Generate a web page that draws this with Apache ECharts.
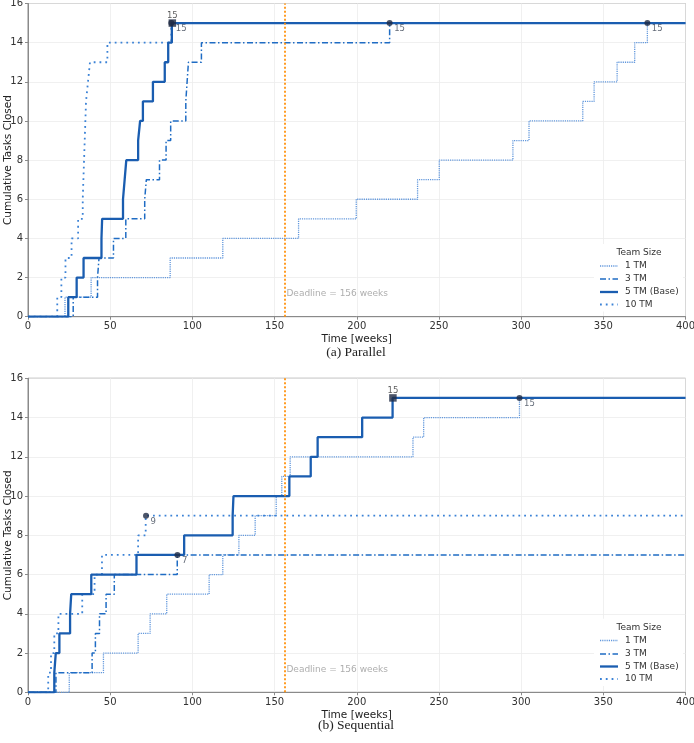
<!DOCTYPE html>
<html><head><meta charset="utf-8">
<script src="https://cdn.jsdelivr.net/npm/echarts@6/dist/echarts.min.js"></script>
<style>html,body{margin:0;padding:0;background:#fff}#c{width:694px;height:743px}</style>
</head><body><div id="c"></div>
<script>
// ---------------- data ----------------
const teamSizes = ['1 TM', '3 TM', '5 TM (Base)', '10 TM'];
const deadline = 156;
const xMax = 400, xStep = 50, yMax = 16, yStep = 2;

// (a) Parallel: time at which each cumulative count is reached
const par1T  = [0, 22.5, 38.4, 86.5, 118.5, 164.6, 199.7, 237, 250.2, 295, 304.8, 337.5, 344.4, 358.4, 369.1, 376.8, 400];
const par1V  = [0, 1, 2, 3, 4, 5, 6, 7, 8, 9, 10, 11, 12, 13, 14, 15, 15];
const par3T  = [0, 27.5, 42.3, 43.2, 52, 59.5, 71, 72, 80, 84, 86.8, 96, 96.8, 97.6, 105.5, 220, 400];
const par3V  = [0, 1, 2, 3, 4, 5, 6, 7, 8, 9, 10, 11, 12, 13, 14, 15, 15];
const par5T  = [0, 24.5, 29.6, 33.8, 44.7, 45.1, 57.8, 58.8, 59.8, 67, 68.2, 69.9, 76, 83.2, 85.3, 87.5, 400];
const par5V  = [0, 1, 2, 3, 4, 5, 6, 7, 8, 9, 10, 11, 12, 13, 14, 15, 15];
const par10T = [0, 17.8, 20.3, 22.8, 26.5, 30.5, 33.3, 33.7, 34.1, 34.5, 34.9, 35.3, 36.5, 37.7, 48.3, 87.2, 400];
const par10V = [0, 1, 2, 3, 4, 5, 6, 7, 8, 9, 10, 11, 12, 13, 14, 15, 15];
const parDoneT = [376.8, 220, 87.8, 87.2];
const parDoneV = [15, 15, 15, 15];

// (b) Sequential
const seq1T  = [0, 25.1, 45.9, 67, 74.3, 84.4, 110.2, 118.5, 128.3, 138.2, 151, 154.4, 159.5, 234.2, 240.7, 299, 400];
const seq1V  = [0, 1, 2, 3, 4, 5, 6, 7, 8, 9, 10, 11, 12, 13, 14, 15, 15];
const seq3T  = [0, 17, 39, 41, 43.5, 47.5, 52.5, 90.8, 400];
const seq3V  = [0, 1, 2, 3, 4, 5, 6, 7, 7];
const seq5T  = [0, 16, 16.9, 19.1, 25.6, 26.3, 38.5, 66, 95, 124.5, 125, 159, 172, 176.2, 203.3, 221.8, 400];
const seq5V  = [0, 1, 2, 3, 4, 5, 6, 7, 8, 9, 10, 11, 12, 13, 14, 15, 15];
const seq10T = [0, 12.3, 14, 16, 18.5, 33, 40.5, 45, 67, 71.6, 400];
const seq10V = [0, 1, 2, 3, 4, 5, 6, 7, 8, 9, 9];
const seqDoneT = [299, 90.9, 222, 71.8];
const seqDoneV = [15, 7, 15, 9];

// ---------------- styles ----------------
const styles = [
  { color: '#6197dc', width: 1.3, type: [1.2, 1] },
  { color: '#1f6cc4', width: 1.5, type: [6, 2.5, 1.5, 2.5] },
  { color: '#1a5db0', width: 2.3, type: 'solid' },
  { color: '#3b82d6', width: 1.8, type: [1.8, 4] }
];
const markerColor = '#1f2a44';
const FONT = 'DejaVu Sans';

const zip = (t, v) => t.map((x, i) => [x, v[i]]);

const panels = [
  { top: 3.5, height: 313.2, series: [[par1T, par1V], [par3T, par3V], [par5T, par5V], [par10T, par10V]], doneT: parDoneT, doneV: parDoneV, caption: '(a) Parallel', capY: 352, legendY: [266, 279, 292, 304.5], titleY: 253 },
  { top: 378.3, height: 314, series: [[seq1T, seq1V], [seq3T, seq3V], [seq5T, seq5V], [seq10T, seq10V]], doneT: seqDoneT, doneV: seqDoneV, caption: '(b) Sequential', capY: 725, legendY: [640.5, 654, 666.5, 679], titleY: 627.7 }
];

const grid = [], xAxis = [], yAxis = [], series = [], graphic = [];
panels.forEach((p, k) => {
  grid.push({ left: 28, right: 8.5, top: p.top, height: p.height, show: true, borderColor: '#8a8a8a', borderWidth: 1, backgroundColor: 'transparent', outerBoundsMode: 'none', containLabel: false });
  xAxis.push({
    type: 'value', gridIndex: k, min: 0, max: xMax, interval: xStep,
    name: 'Time [weeks]', nameLocation: 'middle', nameGap: 17, nameMoveOverlap: false,
    nameTextStyle: { fontSize: 10.5, color: '#222', fontFamily: FONT },
    axisLine: { show: true, lineStyle: { color: '#8a8a8a', width: 1 } },
    axisTick: { show: true, length: 3, lineStyle: { color: '#8a8a8a' } },
    axisLabel: { fontSize: 10, color: '#333', margin: 5, fontFamily: FONT },
    splitLine: { show: true, lineStyle: { color: '#ececec', width: 0.8 } }
  });
  yAxis.push({
    type: 'value', gridIndex: k, min: 0, max: yMax, interval: yStep,
    name: 'Cumulative Tasks Closed', nameLocation: 'middle', nameGap: 14, nameMoveOverlap: false,
    nameTextStyle: { fontSize: 10.5, color: '#222', fontFamily: FONT },
    axisLine: { show: true, lineStyle: { color: '#8a8a8a', width: 1 } },
    axisTick: { show: true, length: 3, lineStyle: { color: '#8a8a8a' } },
    axisLabel: { fontSize: 10, color: '#333', margin: 5, fontFamily: FONT },
    splitLine: { show: true, lineStyle: { color: '#ececec', width: 0.8 } }
  });
  p.series.forEach(([t, v], i) => {
    const st = styles[i];
    const s = {
      name: teamSizes[i], type: 'line', xAxisIndex: k, yAxisIndex: k,
      step: 'end', symbol: 'none', data: zip(t, v), silent: true, animation: false,
      color: st.color,
      lineStyle: { color: st.color, width: st.width, type: st.type },
      z: 3 + (i === 2 ? 1 : 0)
    };
    if (i === 0) {
      s.markLine = {
        silent: true, symbol: 'none', animation: false,
        label: { show: false },
        lineStyle: { color: '#ff8c00', width: 1.7, type: [2, 2] },
        data: [{ xAxis: deadline }]
      };
    }
    series.push(s);
  });
  // completion markers
  series.push({
    type: 'scatter', xAxisIndex: k, yAxisIndex: k, animation: false, silent: true, z: 10,
    data: p.doneT.map((t, i) => {
      const sq = i === 2;
      return {
        value: [t, p.doneV[i]],
        symbol: sq ? 'rect' : 'circle',
        symbolSize: sq ? 7.5 : 6,
        label: sq
          ? { show: true, position: 'top', distance: 1, offset: [0, 2], formatter: String(p.doneV[i]), color: '#333', fontSize: 8.5, fontFamily: FONT }
          : { show: true, position: 'right', distance: 1.5, offset: [0, 6], formatter: String(p.doneV[i]), color: '#3c4656', fontSize: 8.5, fontFamily: FONT }
      };
    }),
    itemStyle: { color: markerColor }
  });
  // deadline label
  series.push({
    type: 'scatter', xAxisIndex: k, yAxisIndex: k, animation: false, silent: true, symbolSize: 0,
    data: [[deadline, 1.16]],
    label: { show: true, position: 'right', distance: 2, formatter: 'Deadline = ' + deadline + ' weeks', color: '#999', fontSize: 9, fontFamily: FONT }
  });
  // legend (drawn with graphic elements to keep line styles)
  graphic.push({ type: 'rect', z: 100, zlevel: 0, shape: { x: 594, y: p.titleY - 9, width: 89, height: p.legendY[3] - p.titleY + 16, r: 2 }, style: { fill: '#ffffff', stroke: null } });
  graphic.push({ type: 'text', z: 101, x: 639, y: p.titleY, style: { text: 'Team Size', fontSize: 9, fill: '#333', fontFamily: FONT, align: 'center', verticalAlign: 'middle' } });
  teamSizes.forEach((name, i) => {
    const st = styles[i];
    const y = p.legendY[i];
    graphic.push({ type: 'line', z: 101, shape: { x1: 600, y1: y, x2: 618, y2: y }, style: { stroke: st.color, lineWidth: st.width, lineDash: st.type === 'solid' ? null : st.type.slice() } });
    graphic.push({ type: 'text', z: 101, x: 625, y: y, style: { text: name, fontSize: 9, fill: '#333', fontFamily: FONT, verticalAlign: 'middle' } });
  });
  graphic.push({ type: 'text', x: 356, y: p.capY, style: { text: p.caption, fontSize: 13.5, fill: '#222', fontFamily: 'Liberation Serif', align: 'center', verticalAlign: 'middle' } });
});

const chart = echarts.init(document.getElementById('c'), null, { renderer: 'canvas' });
chart.setOption({ backgroundColor: '#fff', animation: false, grid, xAxis, yAxis, series, graphic });
</script>
</body></html>
